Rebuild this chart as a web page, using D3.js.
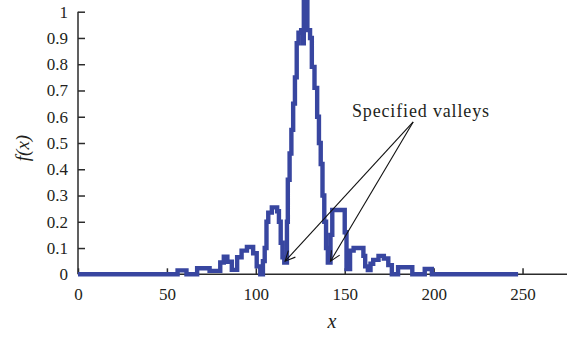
<!DOCTYPE html>
<html>
<head>
<meta charset="utf-8">
<script src="https://cdn.jsdelivr.net/npm/d3@7"></script>
<style>
	body { margin: 0; background: #fff; }
	svg { display: block; }
	svg text { font-family: 'Liberation Serif', 'Times New Roman', 'DejaVu Serif', serif; fill: #231f20; }
	.axis path, .axis line { stroke: #2b2b2b; stroke-width: 1.5; }
	.axis text { font-size: 17px; }
</style>
</head>
<body>
<div class="chart"></div>
<script>
// breakpoints of the stepped curve (x, f(x))
const stepX = [0, 56, 61, 67, 74, 80, 82, 84, 86.5, 89.5, 92, 95, 98.5, 100.5, 102.5,
	104, 105, 106, 107, 109, 112, 113, 114, 115, 116,
	117.5, 118, 119, 120, 121, 122, 123, 124, 125.5, 126.5, 127, 129, 130.5, 131.5, 133,
	134.5, 135.5, 136.5, 137.5, 138.5, 139.5, 140.5,
	142, 143, 150, 151, 153, 155, 160.5, 161.5, 163, 164.5, 166, 169, 172, 174.5, 176.5,
	180, 188, 195, 199, 247.5]
const stepY = [0, 0.015, 0, 0.023, 0.013, 0.045, 0.067, 0.048, 0.017, 0.065, 0.09, 0.104, 0.08, 0.03, 0,
	0.05, 0.1, 0.2, 0.235, 0.255, 0.24, 0.2, 0.12, 0.065, 0.045,
	0.2, 0.36, 0.46, 0.55, 0.65, 0.75, 0.88, 0.92, 0.93, 0.88, 1.06, 0.93, 0.9, 0.79, 0.71,
	0.6, 0.5, 0.42, 0.3, 0.2, 0.1, 0.045,
	0.15, 0.245, 0.16, 0.02, 0.09, 0.1, 0.07, 0.03, 0.016, 0.04, 0.055, 0.07, 0.06, 0.035, 0,
	0.027, 0, 0.02, 0, 0]

const xTicks = [0, 50, 100, 150, 200, 250]
const yTicks = [0, 0.1, 0.2, 0.3, 0.4, 0.5, 0.6, 0.7, 0.8, 0.9, 1]

// annotation: label and the two valleys it points to
const noteText = 'Specified valleys'
const noteFrom = [188.5, 0.58]
const valleys = [[116.5, 0.05], [142, 0.05]]

const W = 567
const H = 341

const scale = {}
scale.x = d3.scaleLinear().domain([0, 275]).range([78, 567])
scale.y = d3.scaleLinear().domain([0, 1]).range([274.3, 11.7])

const svg = d3.select('.chart').append('svg')
	.attr('width', W)
	.attr('height', H)

// axes
const xAxis = svg.append('g')
	.attr('class', 'axis')
	.attr('transform', `translate(0,${scale.y(0)})`)
	.call(d3.axisBottom(scale.x).tickValues(xTicks).tickSize(-6).tickPadding(14).tickFormat(d3.format('d')))
xAxis.select('.domain').attr('d', `M${scale.x(0)},0H${W}`)

const yAxis = svg.append('g')
	.attr('class', 'axis')
	.attr('transform', `translate(${scale.x(0)},0)`)
	.call(d3.axisLeft(scale.y).tickValues(yTicks).tickSize(-7).tickPadding(10).tickFormat(d => d === 0 || d === 1 ? d : d3.format('.1f')(d)))
yAxis.select('.domain').attr('d', `M0,${scale.y(0)}V${scale.y(1)}`)
svg.selectAll('.axis').attr('font-family', null).attr('font-size', null)

// curve
const line = d3.line()
	.x(d => scale.x(d[0]))
	.y(d => scale.y(d[1]))
	.curve(d3.curveStepAfter)

svg.append('path')
	.datum(d3.zip(stepX, stepY))
	.attr('d', line)
	.attr('fill', 'none')
	.attr('stroke', '#3846a0')
	.attr('stroke-width', 4.4)
	.attr('stroke-linejoin', 'miter')

// axis titles
svg.append('text')
	.attr('transform', `translate(29,148) rotate(-90)`)
	.attr('text-anchor', 'middle')
	.style('font-size', '19px')
	.style('font-style', 'italic')
	.text('f(x)')

svg.append('text')
	.attr('x', 332)
	.attr('y', 328)
	.attr('text-anchor', 'middle')
	.style('font-size', '20px')
	.style('font-style', 'italic')
	.text('x')

// annotation
svg.append('text')
	.attr('x', 352)
	.attr('y', 117)
	.style('font-size', '18px')
	.attr('textLength', 137)
	.attr('lengthAdjust', 'spacing')
	.text(noteText)

const fx = scale.x(noteFrom[0])
const fy = scale.y(noteFrom[1])
const arrows = svg.append('g').attr('stroke', '#111').attr('stroke-width', 1.1).attr('fill', 'none')

valleys.forEach(v => {
	const tx = scale.x(v[0])
	const ty = scale.y(v[1])
	arrows.append('line')
		.attr('x1', fx).attr('y1', fy)
		.attr('x2', tx).attr('y2', ty)
	const ang = Math.atan2(fy - ty, fx - tx)
	const len = 11
	const spread = 0.45
	const a1 = [tx + len * Math.cos(ang - spread), ty + len * Math.sin(ang - spread)]
	const a2 = [tx + len * Math.cos(ang + spread), ty + len * Math.sin(ang + spread)]
	arrows.append('path')
		.attr('d', `M${a1[0]},${a1[1]}L${tx},${ty}L${a2[0]},${a2[1]}`)
})
</script>
</body>
</html>
